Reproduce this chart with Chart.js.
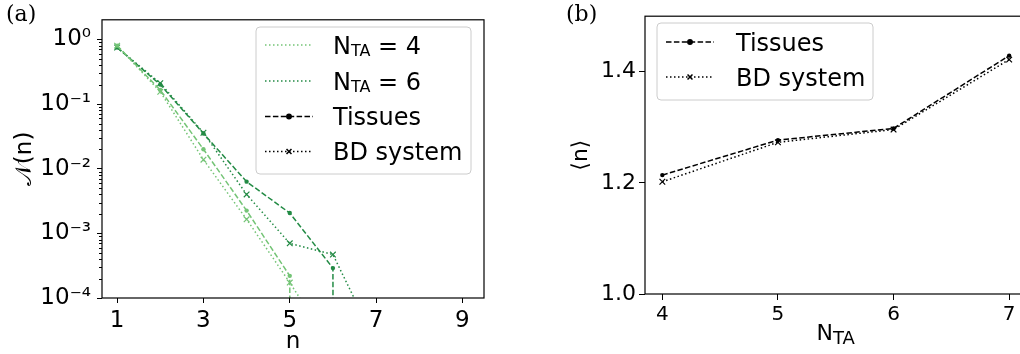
<!DOCTYPE html>
<html>
<head>
<meta charset="utf-8">
<script src="https://cdn.jsdelivr.net/npm/chart.js@4.4.0/dist/chart.umd.min.js"></script>
<style>
  html, body { margin: 0; padding: 0; background: #fff; overflow: hidden; width: 1020px; height: 354px; }
  #wrapA { position: absolute; left: 0; top: 0; width: 500px; height: 354px; }
  #wrapB { position: absolute; left: 560px; top: 0; width: 480px; height: 354px; }
  .panel { position: absolute; font-family: "DejaVu Serif", serif; font-size: 22px; color: #000; }
</style>
</head>
<body>
<div id="wrapA"><canvas id="chartA" width="500" height="354"></canvas></div>
<div id="wrapB"><canvas id="chartB" width="480" height="354"></canvas></div>
<div class="panel" style="left:6px; top:1px">(a)</div>
<div class="panel" style="left:566px; top:1px">(b)</div>
<script>
// ---- panel (a): distribution of n, log scale ----
const n = [1, 2, 3, 4, 5, 6, 7, 8];
const tissues4 = [0.80, 0.165, 0.020, 0.00225, 0.00022, 0, 0, 0];
const bd4 = [0.80, 0.155, 0.0138, 0.00165, 0.000173, 0.000016, 0, 0];
const tissues6 = [0.75, 0.20, 0.035, 0.0063, 0.00206, 0.00029, 0, 0];
const bd6 = [0.75, 0.21, 0.036, 0.0040, 0.0007, 0.00047, 0.00002, 0];
const xTicksA = [1, 3, 5, 7, 9];
const yTicksA = [1e-4, 1e-3, 1e-2, 1e-1, 1];

// ---- panel (b): mean n vs N_TA ----
const nTA = [4, 5, 6, 7];
const meanTissues = [1.214, 1.277, 1.298, 1.429];
const meanBD = [1.202, 1.273, 1.296, 1.422];
const xTicksB = [4, 5, 6, 7];
const yTicksB = [1.0, 1.2, 1.4];

const LIGHT = '#74c476';
const DARK = '#238b45';
const DASHED = [5.5, 2.4];
const DOTTED = [1.5, 2.5];
const FONT = '"DejaVu Sans"';

Chart.defaults.font.family = FONT;
Chart.defaults.color = '#000';
Chart.defaults.animation = false;

// matplotlib sends log(0) far below the axis, do the same
const clip0 = v => v > 0 ? v : 1e-300;
const pts = (xs, ys) => xs.map((x, i) => ({x: x, y: ys[i]}));

const SUP = {'0': '⁰', '1': '¹', '2': '²', '3': '³', '4': '⁴', '5': '⁵', '6': '⁶', '7': '⁷', '8': '⁸', '9': '⁹', '-': '⁻'};
function powLabel(v) {
  const e = Math.round(Math.log10(v));
  return '10' + String(e).split('').map(c => SUP[c]).join('');
}

function drawRich(ctx, parts, x, base, size, subSize, subDrop, align) {
  let total = 0;
  parts.forEach(p => {
    ctx.font = (p.sub ? subSize : size) + 'px ' + FONT;
    p.w = ctx.measureText(p.t).width;
    total += p.w;
  });
  if (align === 'center') x -= total / 2;
  ctx.textAlign = 'left';
  ctx.textBaseline = 'alphabetic';
  ctx.fillStyle = '#000';
  parts.forEach(p => {
    ctx.font = (p.sub ? subSize : size) + 'px ' + FONT;
    ctx.fillText(p.t, x, base + (p.sub ? subDrop : 0));
    x += p.w;
  });
}

function drawLegend(ctx, lg) {
  ctx.save();
  ctx.beginPath();
  ctx.roundRect(lg.x, lg.y, lg.w, lg.h, 4);
  ctx.fillStyle = 'rgba(255,255,255,0.8)';
  ctx.fill();
  ctx.strokeStyle = '#cccccc';
  ctx.lineWidth = 1;
  ctx.stroke();
  lg.entries.forEach((e, i) => {
    const y = lg.rows[i];
    ctx.strokeStyle = e.color;
    ctx.fillStyle = e.color;
    ctx.lineWidth = e.width;
    ctx.setLineDash(e.dash);
    ctx.beginPath();
    ctx.moveTo(lg.x0, y);
    ctx.lineTo(lg.x1, y);
    ctx.stroke();
    ctx.setLineDash([]);
    if (e.marker) {
      Chart.helpers.drawPoint(ctx, {pointStyle: e.marker, radius: e.radius, borderWidth: 1.2, rotation: 0}, (lg.x0 + lg.x1) / 2, y);
    }
    drawRich(ctx, e.text, lg.tx, y + 8.5, 24, 16, 2, 'left');
  });
  ctx.restore();
}

// frame, minor log ticks, legend, rich axis title
function makeDecor(cfg) {
  return {
    id: 'decor',
    afterDraw(chart) {
      const ctx = chart.ctx;
      const a = chart.chartArea;
      ctx.save();
      ctx.strokeStyle = '#000';
      if (cfg.minor) {
        const ys = chart.scales.y;
        ctx.lineWidth = 1;
        cfg.minor.forEach(v => {
          const py = Math.round(ys.getPixelForValue(v)) + 0.5;
          ctx.beginPath();
          ctx.moveTo(a.left - 3, py);
          ctx.lineTo(a.left, py);
          ctx.stroke();
        });
      }
      ctx.lineWidth = 1.2;
      ctx.strokeRect(a.left, a.top, a.right - a.left, a.bottom - a.top);
      ctx.restore();
      if (cfg.legend) drawLegend(ctx, cfg.legend);
      if (cfg.xTitle) {
        ctx.save();
        drawRich(ctx, cfg.xTitle, (a.left + a.right) / 2, cfg.xTitleBase, 22, 18, 4, 'center');
        ctx.restore();
      }
    }
  };
}

const minorA = [];
yTicksA.forEach(d => { for (let m = 2; m <= 9; m++) if (m * d < 2) minorA.push(m * d); });

function lineSet(label, data, color, dash, marker) {
  return {
    label: label,
    data: data,
    borderColor: color,
    backgroundColor: color,
    borderWidth: 1.5,
    borderDash: dash,
    pointStyle: marker,
    pointRadius: marker === 'circle' ? 2.2 : 4,
    pointBorderWidth: marker === 'circle' ? 0 : 1.2,
    pointBackgroundColor: color,
    pointBorderColor: color,
    tension: 0
  };
}

new Chart(document.getElementById('chartA').getContext('2d'), {
  type: 'line',
  data: {
    datasets: [
      lineSet('Tissues, N_TA = 4', pts(n, tissues4.map(clip0)), LIGHT, DASHED, 'circle'),
      lineSet('BD system, N_TA = 4', pts(n, bd4.map(clip0)), LIGHT, DOTTED, 'crossRot'),
      lineSet('Tissues, N_TA = 6', pts(n, tissues6.map(clip0)), DARK, DASHED, 'circle'),
      lineSet('BD system, N_TA = 6', pts(n, bd6.map(clip0)), DARK, DOTTED, 'crossRot')
    ]
  },
  options: {
    responsive: false,
    devicePixelRatio: 1,
    layout: {padding: {top: 14, right: 16, left: 0, bottom: 0}},
    plugins: {legend: {display: false}, tooltip: {enabled: false}},
    scales: {
      x: {
        type: 'linear', min: 0.65, max: 9.5,
        afterBuildTicks: s => { s.ticks = xTicksA.map(v => ({value: v})); },
        afterFit: s => { s.height = 56; },
        grid: {drawOnChartArea: false, tickLength: 5, color: '#000', tickWidth: 1},
        border: {display: false},
        ticks: {font: {size: 23}, padding: 4, maxRotation: 0, callback: v => String(v)},
        title: {display: true, text: 'n', font: {size: 23}, padding: {top: 0, bottom: -2}}
      },
      y: {
        type: 'logarithmic', min: 1e-4, max: 2.01,
        afterBuildTicks: s => { s.ticks = yTicksA.map(v => ({value: v})); },
        afterFit: s => { s.width = 102; },
        grid: {drawOnChartArea: false, tickLength: 5, color: '#000', tickWidth: 1},
        border: {display: false},
        ticks: {font: {size: 23}, padding: 6, callback: v => powLabel(v)},
        title: {display: true, text: '𝒩(n)', font: {size: 23}, padding: {top: 11, bottom: 0}}
      }
    }
  },
  plugins: [makeDecor({
    minor: minorA,
    legend: {
      x: 256, y: 27, w: 215, h: 147,
      rows: [45, 81, 116.5, 151.5],
      x0: 265, x1: 313, tx: 333,
      entries: [
        {color: LIGHT, width: 1.5, dash: DOTTED, text: [{t: 'N'}, {t: 'TA', sub: true}, {t: ' = 4'}]},
        {color: DARK, width: 1.5, dash: DOTTED, text: [{t: 'N'}, {t: 'TA', sub: true}, {t: ' = 6'}]},
        {color: '#000', width: 1.5, dash: DASHED, marker: 'circle', radius: 2.2, text: [{t: 'Tissues'}]},
        {color: '#000', width: 1.5, dash: DOTTED, marker: 'crossRot', radius: 3.5, text: [{t: 'BD system'}]}
      ]
    }
  })]
});

new Chart(document.getElementById('chartB').getContext('2d'), {
  type: 'line',
  data: {
    datasets: [
      lineSet('Tissues', pts(nTA, meanTissues), '#000', DASHED, 'circle'),
      lineSet('BD system', pts(nTA, meanBD), '#000', DOTTED, 'crossRot')
    ]
  },
  options: {
    responsive: false,
    devicePixelRatio: 1,
    layout: {padding: {top: 10, right: 13.5, left: 0, bottom: 0}},
    plugins: {legend: {display: false}, tooltip: {enabled: false}},
    scales: {
      x: {
        type: 'linear', min: 3.85, max: 7.15,
        afterBuildTicks: s => { s.ticks = xTicksB.map(v => ({value: v})); },
        afterFit: s => { s.height = 60; },
        grid: {drawOnChartArea: false, tickLength: 6, color: '#000', tickWidth: 1},
        border: {display: false},
        ticks: {font: {size: 20}, padding: 3, maxRotation: 0, callback: v => String(v)},
        title: {display: false}
      },
      y: {
        type: 'linear', min: 1.0, max: 1.5,
        afterBuildTicks: s => { s.ticks = yTicksB.map(v => ({value: v})); },
        afterFit: s => { s.width = 85; },
        grid: {drawOnChartArea: false, tickLength: 6, color: '#000', tickWidth: 1},
        border: {display: false},
        ticks: {font: {size: 22}, padding: 3, callback: v => v.toFixed(1)},
        title: {display: true, text: '⟨n⟩', font: {size: 22}, padding: {top: 8, bottom: 0}}
      }
    }
  },
  plugins: [makeDecor({
    xTitle: [{t: 'N'}, {t: 'TA', sub: true}],
    xTitleBase: 340,
    legend: {
      x: 97, y: 23, w: 216, h: 77,
      rows: [42, 77],
      x0: 106, x1: 154, tx: 176,
      entries: [
        {color: '#000', width: 1.5, dash: DASHED, marker: 'circle', radius: 2.2, text: [{t: 'Tissues'}]},
        {color: '#000', width: 1.5, dash: DOTTED, marker: 'crossRot', radius: 3.5, text: [{t: 'BD system'}]}
      ]
    }
  })]
});
</script>
</body>
</html>
